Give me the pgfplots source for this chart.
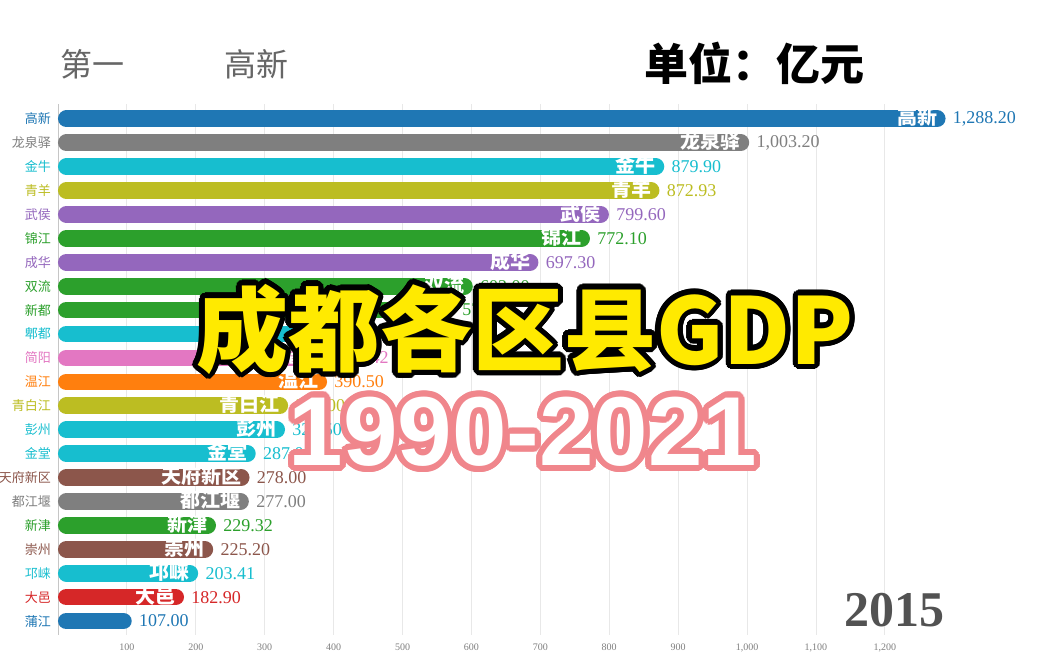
\documentclass[border=0pt]{standalone}
\usepackage{fontspec}
\setmainfont{Liberation Serif}
\newfontfamily\cjk{Noto Sans CJK SC}
\newfontfamily\arialf{Liberation Sans}
\usepackage{pgfplots}
\pgfplotsset{compat=1.18}
\usetikzlibrary{calc}
\definecolor{cB}{HTML}{1F77B4}
\definecolor{cG}{HTML}{7F7F7F}
\definecolor{cC}{HTML}{17BECF}
\definecolor{cO}{HTML}{BCBD22}
\definecolor{cP}{HTML}{9467BD}
\definecolor{cN}{HTML}{2CA02C}
\definecolor{cK}{HTML}{E377C2}
\definecolor{cR}{HTML}{FF7F0E}
\definecolor{cW}{HTML}{8C564B}
\definecolor{cD}{HTML}{D62728}
\definecolor{ttlY}{HTML}{FFEA00}
\definecolor{ttlP}{HTML}{F0868C}
\newcommand\rbar[4]{%
 \addplot[draw=#3, line width=8.35pt, line cap=round, shorten <=4.175pt, shorten >=4.175pt, mark=none] coordinates {(0,#2) (#1,#2)};
 \addplot[draw=none, mark=none, point meta=x,
   nodes near coords={\pgfmathprintnumber[fixed,fixed zerofill,precision=2,1000 sep={,},assume math mode=true]{\pgfplotspointmeta}},
   nodes near coords style={anchor=west, text=#3, font=\fontsize{9}{9}\selectfont, inner sep=0pt, xshift=3.5pt}] coordinates {(#1,#2)};
 \addplot[draw=none, mark=none, point meta=x,
   nodes near coords={#4},
   nodes near coords style={anchor=east, text=white, font=\cjk\bfseries\fontsize{10}{10}\selectfont, inner sep=0pt, xshift=-4pt, yshift=0.8pt}] coordinates {(#1,#2)};
}
\newcommand\outl[6]{%
 \foreach \a in {0,15,...,345}{\node[font={#2},text=#4,inner sep=0pt] at ($(#1)+(\a:#5)$) {#6};}%
 \foreach \a in {0,30,...,330}{\node[font={#2},text=#4,inner sep=0pt] at ($(#1)+(\a:#5*0.5)$) {#6};}%
 \node[font={#2},text=#3,inner sep=0pt] at (#1) {#6};}
\begin{document}
\begin{tikzpicture}
\path[use as bounding box, fill=white] (0,0) rectangle (522.5pt,-326.5pt);
\begin{axis}[
 at={(29pt,-317.7pt)}, anchor=south west, scale only axis,
 width=482.3pt, height=265.5pt,
 xmin=0, xmax=1400, ymin=-0.6, ymax=21.6, y dir=reverse, clip=false,
 axis line style={draw=none}, major tick length=0pt,
 xtick={100,200,...,1200}, xmajorgrids, grid style={gray!18, line width=0.4pt},
 extra x ticks={0}, extra x tick labels={}, extra x tick style={grid style={gray!45, line width=0.4pt}},
 xticklabel style={font=\fontsize{5}{5}\selectfont, text=gray, yshift=-0.5pt},
 /pgf/number format/.cd, 1000 sep={,}, assume math mode=true, /pgfplots/.cd,
 ytick={0,...,21},
 yticklabels={{\textcolor{cB}{高新}},{\textcolor{cG}{龙泉驿}},{\textcolor{cC}{金牛}},{\textcolor{cO}{青羊}},{\textcolor{cP}{武侯}},{\textcolor{cN}{锦江}},{\textcolor{cP}{成华}},{\textcolor{cN}{双流}},{\textcolor{cN}{新都}},{\textcolor{cC}{郫都}},{\textcolor{cK}{简阳}},{\textcolor{cR}{温江}},{\textcolor{cO}{青白江}},{\textcolor{cC}{彭州}},{\textcolor{cC}{金堂}},{\textcolor{cW}{天府新区}},{\textcolor{cG}{都江堰}},{\textcolor{cN}{新津}},{\textcolor{cW}{崇州}},{\textcolor{cC}{邛崃}},{\textcolor{cD}{大邑}},{\textcolor{cB}{蒲江}}},
 yticklabel style={font=\cjk\fontsize{6.5}{7}\selectfont},
]
\rbar{1288.20}{0}{cB}{高新}
\rbar{1003.20}{1}{cG}{龙泉驿}
\rbar{879.90}{2}{cC}{金牛}
\rbar{872.93}{3}{cO}{青羊}
\rbar{799.60}{4}{cP}{武侯}
\rbar{772.10}{5}{cN}{锦江}
\rbar{697.30}{6}{cP}{成华}
\rbar{602.00}{7}{cN}{双流}
\rbar{576.00}{8}{cN}{新都}
\rbar{420.00}{9}{cC}{郫都}
\rbar{397.42}{10}{cK}{简阳}
\rbar{390.50}{11}{cR}{温江}
\rbar{334.00}{12}{cO}{青白江}
\rbar{329.50}{13}{cC}{彭州}
\rbar{287.00}{14}{cC}{金堂}
\rbar{278.00}{15}{cW}{天府新区}
\rbar{277.00}{16}{cG}{都江堰}
\rbar{229.32}{17}{cN}{新津}
\rbar{225.20}{18}{cW}{崇州}
\rbar{203.41}{19}{cC}{邛崃}
\rbar{182.90}{20}{cD}{大邑}
\rbar{107.00}{21}{cB}{}
\end{axis}
\node[anchor=west, text=black!60, font=\cjk\fontsize{16}{16}\selectfont, inner sep=0pt] at (30pt,-32pt) {第一};
\node[anchor=west, text=black!60, font=\cjk\fontsize{16}{16}\selectfont, inner sep=0pt] at (112pt,-32pt) {高新};
\node[anchor=west, text=black, font=\cjk\bfseries\fontsize{22}{22}\selectfont, inner sep=0pt] at (322pt,-31.5pt) {单位：亿元};
\node[text=black!68, font=\bfseries\fontsize{25}{25}\selectfont, inner sep=0pt] at (447pt,-305pt) {2015};
\outl{262.5pt,-164.5pt}{\cjk\bfseries\fontsize{46}{46}\selectfont}{ttlY}{black}{2.6pt}{成都各区县GDP}
\outl{261.5pt,-216pt}{\arialf\bfseries\fontsize{49}{49}\selectfont}{white}{ttlP}{3pt}{1990-2021}
\end{tikzpicture}
\end{document}
